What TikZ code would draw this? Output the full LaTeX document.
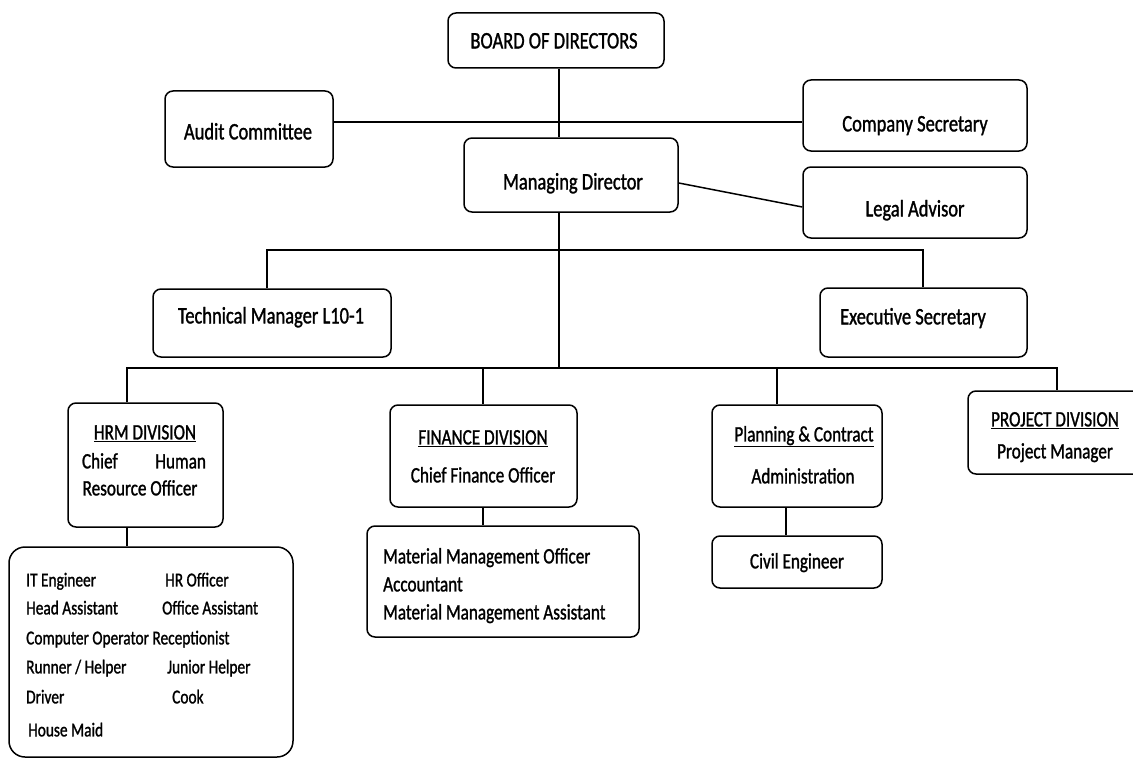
\documentclass[tikz,border=0pt]{standalone}
\usepackage{fontspec}
\setmainfont{Carlito}[FakeStretch=0.78,FakeBold=1.2]
\newcommand\orgbox[6][]{\node[box,#1,minimum width={#5-#3},minimum height={#6-#4}] (#2) at ({(#3+#5)/2},{(#4+#6)/2}) {};}
\begin{document}
\begin{tikzpicture}[x=1pt,y=-1pt,
  box/.style={draw,line width=1.5pt,rounded corners=8pt,inner sep=0pt},
  lbl/.style={inner sep=0pt,anchor=mid,yshift=-4pt,font=\fontsize{23.7}{26}\selectfont},
  dlbl/.style={inner sep=0pt,anchor=mid,yshift=-4pt,font=\fontsize{22}{25}\selectfont},
  slbl/.style={inner sep=0pt,anchor=mid west,yshift=-4pt,font=\fontsize{19.7}{22}\selectfont},
  conn/.style={line width=1.5pt}]
\useasboundingbox (0,0) rectangle (1133,760);
\clip (0,0) rectangle (1133,760);
% boxes
\orgbox{board}{448}{13}{664}{68}
\orgbox{audit}{165}{91}{333}{167}
\orgbox{cs}{803}{80}{1027}{151}
\orgbox{md}{464}{138}{678}{212}
\orgbox{la}{803}{167}{1027}{238}
\orgbox{tm}{153}{289}{391}{357}
\orgbox{es}{820}{288}{1027}{357}
\orgbox{hrm}{68}{403}{223}{527}
\orgbox{fin}{390}{405}{577}{507}
\orgbox{plan}{712}{405}{882}{507}
\orgbox{proj}{968}{391}{1150}{474}
\orgbox[rounded corners=16pt]{staff}{9}{547}{293}{757}
\orgbox{mat}{367}{526}{639}{637}
\orgbox{civil}{712}{536}{882}{588}
% texts
\node[lbl] (tboard) at (554,42) {BOARD OF DIRECTORS};
\node[lbl] (taudit) at (248,133) {Audit Committee};
\node[lbl] (tcs) at (915,125) {Company Secretary};
\node[lbl] (tmd) at (573,183) {Managing Director};
\node[lbl] (tla) at (915,210) {Legal Advisor};
\node[lbl] (ttm) at (271,317) {Technical Manager L10-1};
\node[lbl] (tes) at (913,318) {Executive Secretary};
\node[dlbl] (thrm1) at (145,433) {\underline{HRM DIVISION}};
\node[dlbl] (thrm2) at (144,462) {\makebox[124pt][s]{Chief Human}};
\node[dlbl] (thrm3) at (140,489) {Resource Officer};
\node[dlbl] (tfin1) at (483,438) {\underline{FINANCE DIVISION}};
\node[dlbl] (tfin2) at (483,476) {Chief Finance Officer};
\node[dlbl] (tplan1) at (804,435) {\underline{Planning \& Contract}};
\node[dlbl] (tplan2) at (803,477) {Administration};
\node[dlbl] (tcivil) at (797,562) {Civil Engineer};
\node[dlbl] (tproj1) at (1055,420) {\underline{PROJECT DIVISION}};
\node[dlbl] (tproj2) at (1055,452) {Project Manager};
\node[dlbl,anchor=mid west] (tmat1) at (383,557) {Material Management Officer};
\node[dlbl,anchor=mid west] (tmat2) at (383,585) {Accountant};
\node[dlbl,anchor=mid west] (tmat3) at (383,613) {Material Management Assistant};
\node[slbl] (s1) at (26,580) {IT Engineer};
\node[slbl] (s2) at (165,580) {HR Officer};
\node[slbl] (s3) at (26,608) {Head Assistant};
\node[slbl] (s4) at (162,608) {Office Assistant};
\node[slbl] (s5) at (26,638) {Computer Operator Receptionist};
\node[slbl] (s6) at (26,667) {Runner / Helper};
\node[slbl] (s7) at (167,667) {Junior Helper};
\node[slbl] (s8) at (26,697) {Driver};
\node[slbl] (s9) at (172,697) {Cook};
\node[slbl] (s10) at (28,730) {House Maid};
% connector coordinates
\coordinate (sx) at (559,0);
\coordinate (h1) at (0,122);
\coordinate (l1) at (0,183);
\coordinate (l2) at (0,207);
\coordinate (b1) at (0,250);
\coordinate (b2) at (0,368);
\coordinate (xtm) at (267,0);
\coordinate (xes) at (923,0);
\coordinate (xh) at (127,0);
\coordinate (xf) at (483,0);
\coordinate (xpl) at (777,0);
\coordinate (xp) at (1057,0);
\coordinate (xc) at (786,0);
% connectors
\draw[conn] (board.south -| sx) -- (md.north -| sx);
\draw[conn] (audit.east |- h1) -- (cs.west |- h1);
\draw[conn] (md.east |- l1) -- (la.west |- l2);
\draw[conn] (md.south -| sx) -- (b2 -| sx);
\draw[conn] (tm.north -| xtm) -- (b1 -| xtm) -- (b1 -| xes) -- (es.north -| xes);
\draw[conn] (hrm.north -| xh) -- (b2 -| xh) -- (b2 -| xp) -- (proj.north -| xp);
\draw[conn] (b2 -| xf) -- (fin.north -| xf);
\draw[conn] (b2 -| xpl) -- (plan.north -| xpl);
\draw[conn] (hrm.south -| xh) -- (staff.north -| xh);
\draw[conn] (fin.south -| xf) -- (mat.north -| xf);
\draw[conn] (plan.south -| xc) -- (civil.north -| xc);
\end{tikzpicture}
\end{document}
